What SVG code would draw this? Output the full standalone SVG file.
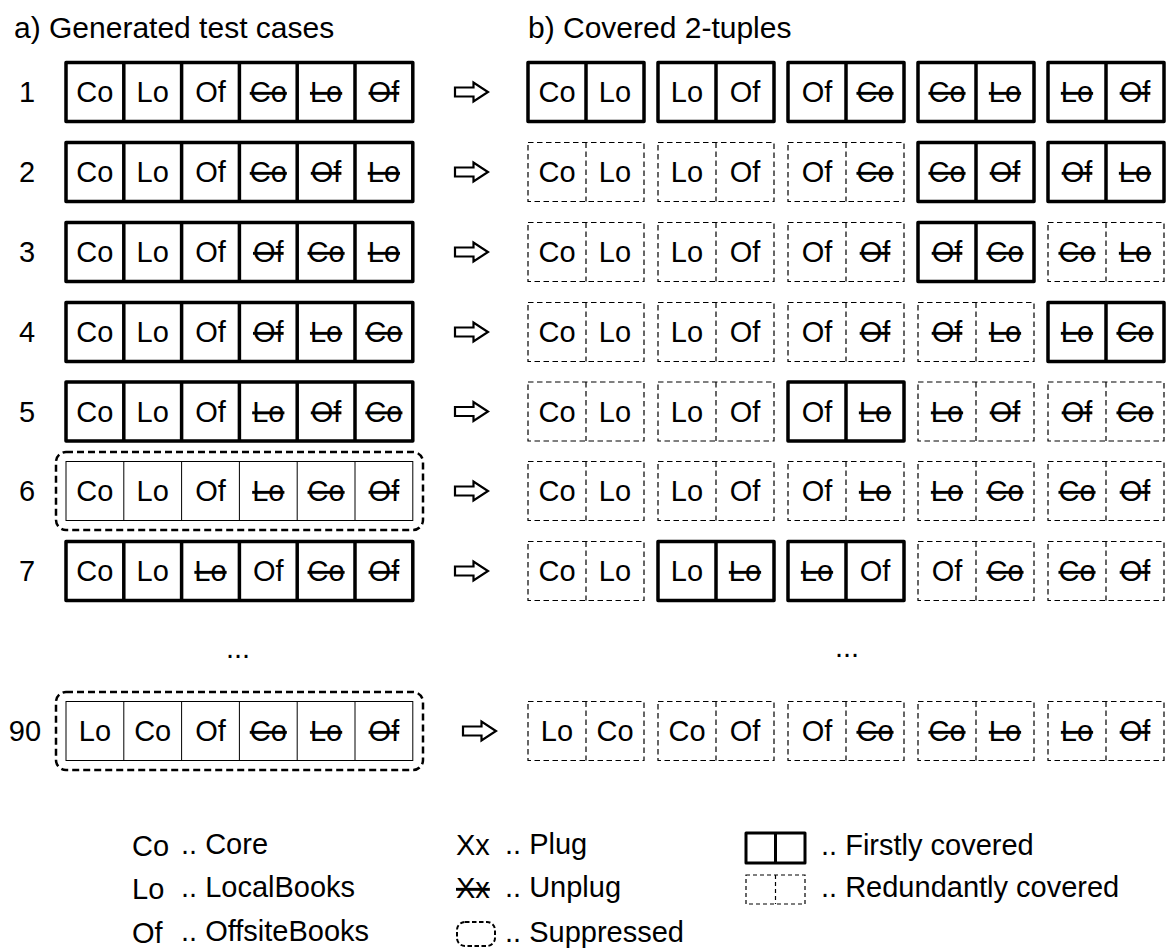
<svg xmlns="http://www.w3.org/2000/svg" width="1169" height="950" viewBox="0 0 1169 950">
<style>
text{font-family:"Liberation Sans",Arial,Helvetica,sans-serif;font-size:29px;fill:#000}
.title{font-size:30px}
.c{text-anchor:middle}
.s{text-decoration:line-through;text-decoration-thickness:2px}
.thick{fill:#fff;stroke:#000;stroke-width:3.5;stroke-linejoin:round}
.thin{fill:#fff;stroke:#000;stroke-width:1}
.dash{fill:none;stroke:#000;stroke-width:1.2;stroke-dasharray:5.5 3.5}
.sup{fill:none;stroke:#000;stroke-width:2.5;stroke-dasharray:7 4}
.arrow{fill:#fff;stroke:#000;stroke-width:2.2;stroke-linejoin:miter}
</style>
<rect width="1169" height="950" fill="#fff"/>
<g id="titles">
<text class="title" x="14" y="38">a) Generated test cases</text>
<text class="title" x="528" y="38">b) Covered 2-tuples</text>
</g>

<g id="tc1">
<text class="c" x="27" y="102">1</text>
<rect class="thick" x="66" y="62.5" width="346.8" height="59"/>
<path class="thick" d="M123.8 62.5v59M181.6 62.5v59M239.4 62.5v59M297.2 62.5v59M355 62.5v59"/>
<text class="c" x="94.9" y="102">Co</text><text class="c" x="152.7" y="102">Lo</text><text class="c" x="210.5" y="102">Of</text>
<text class="c s" x="268.3" y="102">Co</text><text class="c s" x="326.1" y="102">Lo</text><text class="c s" x="383.9" y="102">Of</text>
</g>
<g id="tc2">
<text class="c" x="27" y="182">2</text>
<rect class="thick" x="66" y="142.5" width="346.8" height="59"/>
<path class="thick" d="M123.8 142.5v59M181.6 142.5v59M239.4 142.5v59M297.2 142.5v59M355 142.5v59"/>
<text class="c" x="94.9" y="182">Co</text><text class="c" x="152.7" y="182">Lo</text><text class="c" x="210.5" y="182">Of</text>
<text class="c s" x="268.3" y="182">Co</text><text class="c s" x="326.1" y="182">Of</text><text class="c s" x="383.9" y="182">Lo</text>
</g>
<g id="tc3">
<text class="c" x="27" y="262">3</text>
<rect class="thick" x="66" y="222.5" width="346.8" height="59"/>
<path class="thick" d="M123.8 222.5v59M181.6 222.5v59M239.4 222.5v59M297.2 222.5v59M355 222.5v59"/>
<text class="c" x="94.9" y="262">Co</text><text class="c" x="152.7" y="262">Lo</text><text class="c" x="210.5" y="262">Of</text>
<text class="c s" x="268.3" y="262">Of</text><text class="c s" x="326.1" y="262">Co</text><text class="c s" x="383.9" y="262">Lo</text>
</g>
<g id="tc4">
<text class="c" x="27" y="342">4</text>
<rect class="thick" x="66" y="302.5" width="346.8" height="59"/>
<path class="thick" d="M123.8 302.5v59M181.6 302.5v59M239.4 302.5v59M297.2 302.5v59M355 302.5v59"/>
<text class="c" x="94.9" y="342">Co</text><text class="c" x="152.7" y="342">Lo</text><text class="c" x="210.5" y="342">Of</text>
<text class="c s" x="268.3" y="342">Of</text><text class="c s" x="326.1" y="342">Lo</text><text class="c s" x="383.9" y="342">Co</text>
</g>
<g id="tc5">
<text class="c" x="27" y="421.5">5</text>
<rect class="thick" x="66" y="382" width="346.8" height="59"/>
<path class="thick" d="M123.8 382v59M181.6 382v59M239.4 382v59M297.2 382v59M355 382v59"/>
<text class="c" x="94.9" y="421.5">Co</text><text class="c" x="152.7" y="421.5">Lo</text><text class="c" x="210.5" y="421.5">Of</text>
<text class="c s" x="268.3" y="421.5">Lo</text><text class="c s" x="326.1" y="421.5">Of</text><text class="c s" x="383.9" y="421.5">Co</text>
</g>
<g id="tc6">
<text class="c" x="27" y="501">6</text>
<rect class="sup" x="56" y="452" width="367" height="78" rx="10"/>
<rect class="thin" x="66" y="461.5" width="346.8" height="59"/>
<path class="thin" d="M123.8 461.5v59M181.6 461.5v59M239.4 461.5v59M297.2 461.5v59M355 461.5v59"/>
<text class="c" x="94.9" y="501">Co</text><text class="c" x="152.7" y="501">Lo</text><text class="c" x="210.5" y="501">Of</text>
<text class="c s" x="268.3" y="501">Lo</text><text class="c s" x="326.1" y="501">Co</text><text class="c s" x="383.9" y="501">Of</text>
</g>
<g id="tc7">
<text class="c" x="27" y="581">7</text>
<rect class="thick" x="66" y="541.5" width="346.8" height="59"/>
<path class="thick" d="M123.8 541.5v59M181.6 541.5v59M239.4 541.5v59M297.2 541.5v59M355 541.5v59"/>
<text class="c" x="94.9" y="581">Co</text><text class="c" x="152.7" y="581">Lo</text><text class="c s" x="210.5" y="581">Lo</text>
<text class="c" x="268.3" y="581">Of</text><text class="c s" x="326.1" y="581">Co</text><text class="c s" x="383.9" y="581">Of</text>
</g>
<g id="ellipsis">
<text class="c" x="238" y="658">...</text>
<text class="c" x="847" y="657">...</text>
</g>
<g id="tc90">
<text class="c" x="25" y="741">90</text>
<rect class="sup" x="56" y="692" width="367" height="78" rx="10"/>
<rect class="thin" x="66" y="701.5" width="346.8" height="59"/>
<path class="thin" d="M123.8 701.5v59M181.6 701.5v59M239.4 701.5v59M297.2 701.5v59M355 701.5v59"/>
<text class="c" x="94.9" y="741">Lo</text><text class="c" x="152.7" y="741">Co</text><text class="c" x="210.5" y="741">Of</text>
<text class="c s" x="268.3" y="741">Co</text><text class="c s" x="326.1" y="741">Lo</text><text class="c s" x="383.9" y="741">Of</text>
</g>

<g id="connectors">
<polygon class="arrow" points="455,87.5 473.5,87.5 473.5,82.5 488,92 473.5,101.5 473.5,96.5 455,96.5"/>
<polygon class="arrow" points="455,167.5 473.5,167.5 473.5,162.5 488,172 473.5,181.5 473.5,176.5 455,176.5"/>
<polygon class="arrow" points="455,247.5 473.5,247.5 473.5,242.5 488,252 473.5,261.5 473.5,256.5 455,256.5"/>
<polygon class="arrow" points="455,327.5 473.5,327.5 473.5,322.5 488,332 473.5,341.5 473.5,336.5 455,336.5"/>
<polygon class="arrow" points="455,407 473.5,407 473.5,402 488,411.5 473.5,421 473.5,416 455,416"/>
<polygon class="arrow" points="455,486.5 473.5,486.5 473.5,481.5 488,491 473.5,500.5 473.5,495.5 455,495.5"/>
<polygon class="arrow" points="455,566.5 473.5,566.5 473.5,561.5 488,571 473.5,580.5 473.5,575.5 455,575.5"/>
<polygon class="arrow" points="463,726.5 481.5,726.5 481.5,721.5 496,731 481.5,740.5 481.5,735.5 463,735.5"/>
</g>

<g id="cov1">
<rect class="thick" x="528" y="62.5" width="116" height="59"/><path class="thick" d="M586 62.5v59"/>
<rect class="thick" x="658" y="62.5" width="116" height="59"/><path class="thick" d="M716 62.5v59"/>
<rect class="thick" x="788" y="62.5" width="116" height="59"/><path class="thick" d="M846 62.5v59"/>
<rect class="thick" x="918" y="62.5" width="116" height="59"/><path class="thick" d="M976 62.5v59"/>
<rect class="thick" x="1048" y="62.5" width="116" height="59"/><path class="thick" d="M1106 62.5v59"/>
<text class="c" x="557" y="102">Co</text><text class="c" x="615" y="102">Lo</text>
<text class="c" x="687" y="102">Lo</text><text class="c" x="745" y="102">Of</text>
<text class="c" x="817" y="102">Of</text><text class="c s" x="875" y="102">Co</text>
<text class="c s" x="947" y="102">Co</text><text class="c s" x="1005" y="102">Lo</text>
<text class="c s" x="1077" y="102">Lo</text><text class="c s" x="1135" y="102">Of</text>
</g>
<g id="cov2">
<rect class="dash" x="528" y="142.5" width="116" height="59"/><path class="dash" d="M586 142.5v59"/>
<rect class="dash" x="658" y="142.5" width="116" height="59"/><path class="dash" d="M716 142.5v59"/>
<rect class="dash" x="788" y="142.5" width="116" height="59"/><path class="dash" d="M846 142.5v59"/>
<rect class="thick" x="918" y="142.5" width="116" height="59"/><path class="thick" d="M976 142.5v59"/>
<rect class="thick" x="1048" y="142.5" width="116" height="59"/><path class="thick" d="M1106 142.5v59"/>
<text class="c" x="557" y="182">Co</text><text class="c" x="615" y="182">Lo</text>
<text class="c" x="687" y="182">Lo</text><text class="c" x="745" y="182">Of</text>
<text class="c" x="817" y="182">Of</text><text class="c s" x="875" y="182">Co</text>
<text class="c s" x="947" y="182">Co</text><text class="c s" x="1005" y="182">Of</text>
<text class="c s" x="1077" y="182">Of</text><text class="c s" x="1135" y="182">Lo</text>
</g>
<g id="cov3">
<rect class="dash" x="528" y="222.5" width="116" height="59"/><path class="dash" d="M586 222.5v59"/>
<rect class="dash" x="658" y="222.5" width="116" height="59"/><path class="dash" d="M716 222.5v59"/>
<rect class="dash" x="788" y="222.5" width="116" height="59"/><path class="dash" d="M846 222.5v59"/>
<rect class="thick" x="918" y="222.5" width="116" height="59"/><path class="thick" d="M976 222.5v59"/>
<rect class="dash" x="1048" y="222.5" width="116" height="59"/><path class="dash" d="M1106 222.5v59"/>
<text class="c" x="557" y="262">Co</text><text class="c" x="615" y="262">Lo</text>
<text class="c" x="687" y="262">Lo</text><text class="c" x="745" y="262">Of</text>
<text class="c" x="817" y="262">Of</text><text class="c s" x="875" y="262">Of</text>
<text class="c s" x="947" y="262">Of</text><text class="c s" x="1005" y="262">Co</text>
<text class="c s" x="1077" y="262">Co</text><text class="c s" x="1135" y="262">Lo</text>
</g>
<g id="cov4">
<rect class="dash" x="528" y="302.5" width="116" height="59"/><path class="dash" d="M586 302.5v59"/>
<rect class="dash" x="658" y="302.5" width="116" height="59"/><path class="dash" d="M716 302.5v59"/>
<rect class="dash" x="788" y="302.5" width="116" height="59"/><path class="dash" d="M846 302.5v59"/>
<rect class="dash" x="918" y="302.5" width="116" height="59"/><path class="dash" d="M976 302.5v59"/>
<rect class="thick" x="1048" y="302.5" width="116" height="59"/><path class="thick" d="M1106 302.5v59"/>
<text class="c" x="557" y="342">Co</text><text class="c" x="615" y="342">Lo</text>
<text class="c" x="687" y="342">Lo</text><text class="c" x="745" y="342">Of</text>
<text class="c" x="817" y="342">Of</text><text class="c s" x="875" y="342">Of</text>
<text class="c s" x="947" y="342">Of</text><text class="c s" x="1005" y="342">Lo</text>
<text class="c s" x="1077" y="342">Lo</text><text class="c s" x="1135" y="342">Co</text>
</g>
<g id="cov5">
<rect class="dash" x="528" y="382" width="116" height="59"/><path class="dash" d="M586 382v59"/>
<rect class="dash" x="658" y="382" width="116" height="59"/><path class="dash" d="M716 382v59"/>
<rect class="thick" x="788" y="382" width="116" height="59"/><path class="thick" d="M846 382v59"/>
<rect class="dash" x="918" y="382" width="116" height="59"/><path class="dash" d="M976 382v59"/>
<rect class="dash" x="1048" y="382" width="116" height="59"/><path class="dash" d="M1106 382v59"/>
<text class="c" x="557" y="421.5">Co</text><text class="c" x="615" y="421.5">Lo</text>
<text class="c" x="687" y="421.5">Lo</text><text class="c" x="745" y="421.5">Of</text>
<text class="c" x="817" y="421.5">Of</text><text class="c s" x="875" y="421.5">Lo</text>
<text class="c s" x="947" y="421.5">Lo</text><text class="c s" x="1005" y="421.5">Of</text>
<text class="c s" x="1077" y="421.5">Of</text><text class="c s" x="1135" y="421.5">Co</text>
</g>
<g id="cov6">
<rect class="dash" x="528" y="461.5" width="116" height="59"/><path class="dash" d="M586 461.5v59"/>
<rect class="dash" x="658" y="461.5" width="116" height="59"/><path class="dash" d="M716 461.5v59"/>
<rect class="dash" x="788" y="461.5" width="116" height="59"/><path class="dash" d="M846 461.5v59"/>
<rect class="dash" x="918" y="461.5" width="116" height="59"/><path class="dash" d="M976 461.5v59"/>
<rect class="dash" x="1048" y="461.5" width="116" height="59"/><path class="dash" d="M1106 461.5v59"/>
<text class="c" x="557" y="501">Co</text><text class="c" x="615" y="501">Lo</text>
<text class="c" x="687" y="501">Lo</text><text class="c" x="745" y="501">Of</text>
<text class="c" x="817" y="501">Of</text><text class="c s" x="875" y="501">Lo</text>
<text class="c s" x="947" y="501">Lo</text><text class="c s" x="1005" y="501">Co</text>
<text class="c s" x="1077" y="501">Co</text><text class="c s" x="1135" y="501">Of</text>
</g>
<g id="cov7">
<rect class="dash" x="528" y="541.5" width="116" height="59"/><path class="dash" d="M586 541.5v59"/>
<rect class="thick" x="658" y="541.5" width="116" height="59"/><path class="thick" d="M716 541.5v59"/>
<rect class="thick" x="788" y="541.5" width="116" height="59"/><path class="thick" d="M846 541.5v59"/>
<rect class="dash" x="918" y="541.5" width="116" height="59"/><path class="dash" d="M976 541.5v59"/>
<rect class="dash" x="1048" y="541.5" width="116" height="59"/><path class="dash" d="M1106 541.5v59"/>
<text class="c" x="557" y="581">Co</text><text class="c" x="615" y="581">Lo</text>
<text class="c" x="687" y="581">Lo</text><text class="c s" x="745" y="581">Lo</text>
<text class="c s" x="817" y="581">Lo</text><text class="c" x="875" y="581">Of</text>
<text class="c" x="947" y="581">Of</text><text class="c s" x="1005" y="581">Co</text>
<text class="c s" x="1077" y="581">Co</text><text class="c s" x="1135" y="581">Of</text>
</g>
<g id="cov90">
<rect class="dash" x="528" y="701.5" width="116" height="59"/><path class="dash" d="M586 701.5v59"/>
<rect class="dash" x="658" y="701.5" width="116" height="59"/><path class="dash" d="M716 701.5v59"/>
<rect class="dash" x="788" y="701.5" width="116" height="59"/><path class="dash" d="M846 701.5v59"/>
<rect class="dash" x="918" y="701.5" width="116" height="59"/><path class="dash" d="M976 701.5v59"/>
<rect class="dash" x="1048" y="701.5" width="116" height="59"/><path class="dash" d="M1106 701.5v59"/>
<text class="c" x="557" y="741">Lo</text><text class="c" x="615" y="741">Co</text>
<text class="c" x="687" y="741">Co</text><text class="c" x="745" y="741">Of</text>
<text class="c" x="817" y="741">Of</text><text class="c s" x="875" y="741">Co</text>
<text class="c s" x="947" y="741">Co</text><text class="c s" x="1005" y="741">Lo</text>
<text class="c s" x="1077" y="741">Lo</text><text class="c s" x="1135" y="741">Of</text>
</g>

<g id="legend">
<text x="132" y="856">Co</text><text x="181" y="854">.. Core</text>
<text x="132" y="899">Lo</text><text x="181" y="897">.. LocalBooks</text>
<text x="132" y="943">Of</text><text x="181" y="941">.. OffsiteBooks</text>
<text x="456" y="855">Xx</text><text x="505" y="854">.. Plug</text>
<text class="s" x="456" y="898">Xx</text><text x="505" y="897">.. Unplug</text>
<rect class="sup" x="457" y="922" width="38" height="24" rx="8" style="stroke-width:2;stroke-dasharray:4.5 2.5"/>
<text x="505" y="942">.. Suppressed</text>
<rect class="thick" x="746" y="833" width="59" height="30" style="stroke-width:3"/><path class="thick" d="M775.5 833v30" style="stroke-width:3"/>
<text x="821" y="855">.. Firstly covered</text>
<rect class="dash" x="746" y="875" width="59" height="29" style="stroke-dasharray:4 3"/><path class="dash" d="M775.5 875v29" style="stroke-dasharray:4 3"/>
<text x="821" y="897">.. Redundantly covered</text>
</g>
</svg>
